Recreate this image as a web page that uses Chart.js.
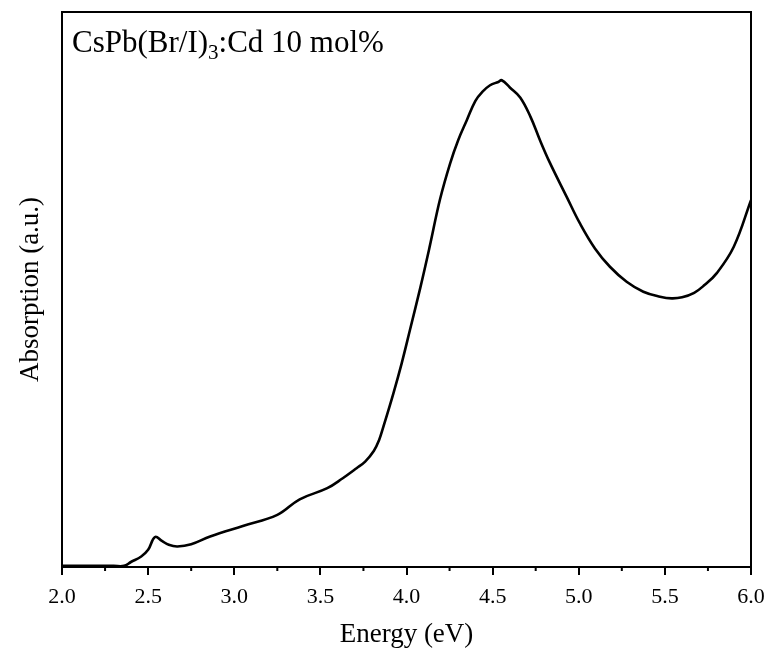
<!DOCTYPE html>
<html>
<head>
<meta charset="utf-8">
<script src="https://cdn.jsdelivr.net/npm/chart.js@4/dist/chart.umd.min.js"></script>
<style>
  html, body { margin: 0; padding: 0; background: #fff; }
  #wrap { width: 771px; height: 651px; }
</style>
</head>
<body>
<div id="wrap"><canvas id="absChart" width="771" height="651"></canvas></div>
<script>
// photon energy (eV) and absorption (a.u.)
var energy = [2.00, 2.30, 2.36, 2.40, 2.46, 2.50, 2.54, 2.58, 2.62, 2.67, 2.75, 2.86, 3.05, 3.25, 3.38, 3.54, 3.63, 3.71, 3.76, 3.81, 3.84, 3.866, 3.924, 3.972, 4.02, 4.08, 4.133, 4.195, 4.253, 4.30, 4.35, 4.40, 4.44, 4.485, 4.533, 4.553, 4.60, 4.66, 4.72, 4.775, 4.83, 4.93, 5.007, 5.094, 5.181, 5.278, 5.375, 5.472, 5.54, 5.60, 5.67, 5.73, 5.80, 5.90, 6.00];
var absorption = [0.002, 0.002, 0.002, 0.009, 0.019, 0.031, 0.054, 0.047, 0.040, 0.037, 0.041, 0.055, 0.074, 0.094, 0.122, 0.142, 0.160, 0.178, 0.190, 0.209, 0.228, 0.253, 0.313, 0.367, 0.427, 0.503, 0.575, 0.663, 0.727, 0.769, 0.805, 0.840, 0.856, 0.868, 0.874, 0.877, 0.864, 0.846, 0.811, 0.769, 0.730, 0.667, 0.619, 0.574, 0.541, 0.514, 0.496, 0.487, 0.484, 0.486, 0.494, 0.508, 0.529, 0.577, 0.661];
var minorTicks = [2.25, 2.75, 3.25, 3.75, 4.25, 4.75, 5.25, 5.75];
var sampleLabel = "CsPb(Br/I)";

var serif = "'Liberation Serif', 'Times New Roman', serif";

// frame + minor ticks + sample label
var framePlugin = {
    id: "frame",
    afterDraw: function (chart) {
        var c = chart.ctx, a = chart.chartArea, xs = chart.scales.x;
        c.save();
        c.strokeStyle = "#000";
        c.lineWidth = 2;
        c.strokeRect(a.left, a.top, a.right - a.left, a.bottom - a.top);
        c.beginPath();
        minorTicks.forEach(function (v) {
            var px = xs.getPixelForValue(v);
            c.moveTo(px, a.bottom);
            c.lineTo(px, a.bottom + 4);
        });
        c.stroke();
        // label with subscript 3
        c.fillStyle = "#000";
        c.textBaseline = "alphabetic";
        c.font = "31px " + serif;
        var x = a.left + 10, y = a.top + 40;
        c.fillText(sampleLabel, x, y);
        x += c.measureText(sampleLabel).width;
        c.font = "21px " + serif;
        c.fillText("3", x, y + 7);
        x += c.measureText("3").width;
        c.font = "31px " + serif;
        c.fillText(":Cd 10 mol%", x, y);
        c.restore();
    }
};

new Chart(document.getElementById("absChart").getContext("2d"), {
    type: "line",
    data: {
        datasets: [{
            data: energy.map(function (e, i) { return { x: e, y: absorption[i] }; }),
            borderColor: "#000",
            borderWidth: 2.6,
            pointRadius: 0,
            fill: false,
            tension: 0.4
        }]
    },
    options: {
        responsive: false,
        animation: false,
        layout: { padding: { top: 12, right: 20, left: 0, bottom: 0 } },
        plugins: { legend: { display: false }, tooltip: { enabled: false } },
        scales: {
            x: {
                type: "linear",
                min: 2, max: 6,
                border: { display: false },
                grid: { drawOnChartArea: false, tickLength: 8, color: "#000", lineWidth: 2 },
                ticks: {
                    stepSize: 0.5,
                    color: "#000",
                    padding: 9,
                    maxRotation: 0,
                    font: { family: serif, size: 22 },
                    callback: function (v) { return Number(v).toFixed(1); }
                },
                title: {
                    display: true,
                    text: "Energy (eV)",
                    color: "#000",
                    font: { family: serif, size: 27 },
                    padding: { top: 0, bottom: 0 }
                },
                afterFit: function (s) {
                    s.height = 84;
                    s.paddingLeft = 0;
                    s.paddingRight = 0;
                }
            },
            y: {
                min: 0, max: 1,
                border: { display: false },
                grid: { display: false },
                ticks: { display: false },
                title: {
                    display: true,
                    text: "Absorption (a.u.)",
                    color: "#000",
                    font: { family: serif, size: 27 },
                    padding: { top: 15, bottom: 0 }
                },
                afterFit: function (s) { s.width = 62; }
            }
        }
    },
    plugins: [framePlugin]
});
</script>
</body>
</html>
